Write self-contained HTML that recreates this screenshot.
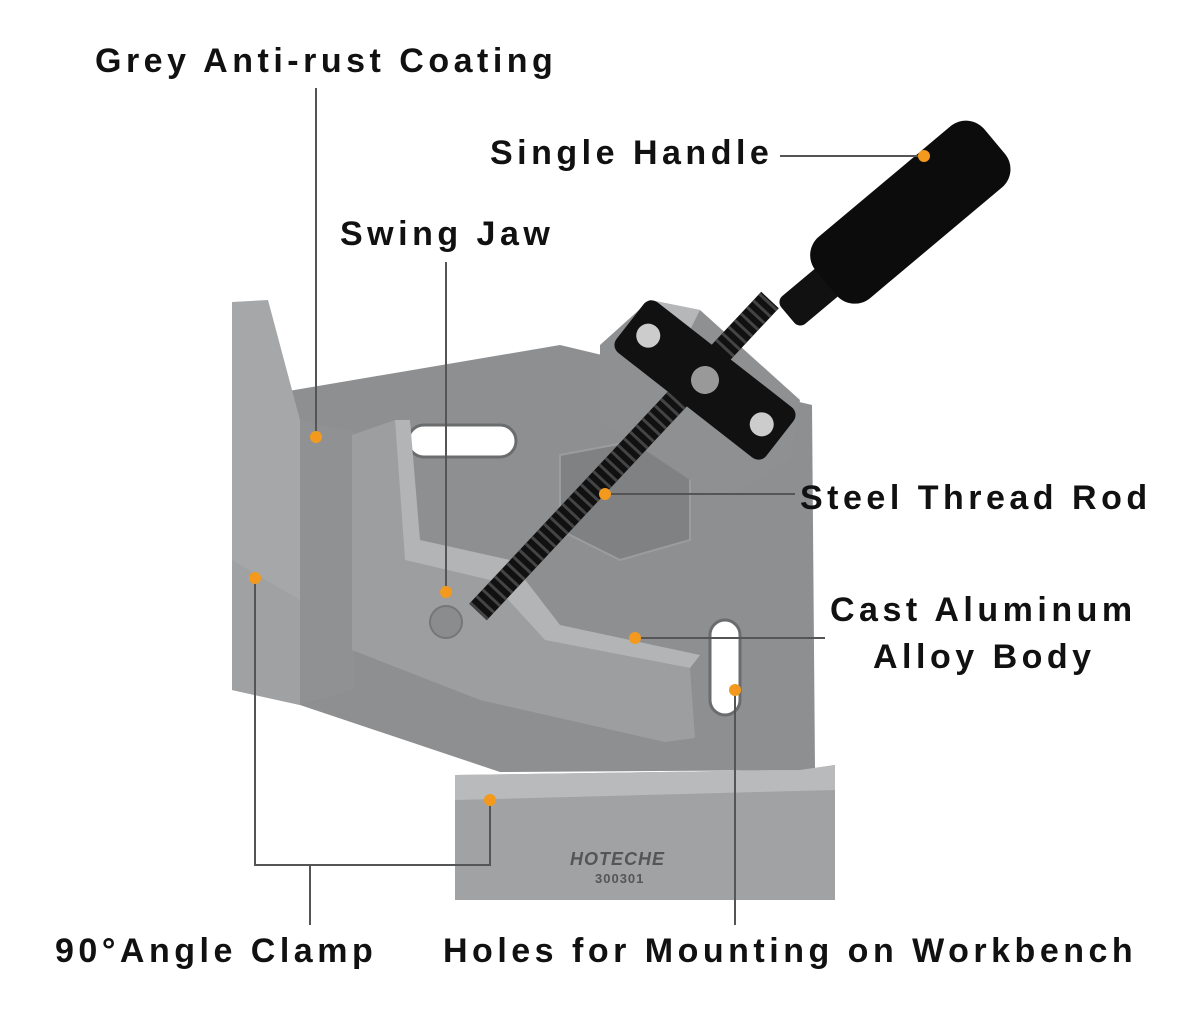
<!DOCTYPE html>
<html><head><meta charset="utf-8"><style>
html,body{margin:0;padding:0;background:#fff;}
svg{display:block;}
text{font-family:"Liberation Sans",sans-serif;font-weight:bold;font-size:34px;fill:#111;letter-spacing:4.5px;}
</style></head><body>
<svg width="1200" height="1018" viewBox="0 0 1200 1018" xmlns="http://www.w3.org/2000/svg">
<polygon points="265,395 560,345 812,405 815,770 500,772 300,705" fill="#8d8f91"/>
<rect x="408" y="425" width="108" height="32" rx="16" fill="#fff" stroke="#6a6c6e" stroke-width="3"/>
<polygon points="560,455 640,440 690,470 690,540 620,560 560,530" fill="#7f8183" stroke="#9a9c9e" stroke-width="2"/>
<polygon points="232,302 268,300 300,420 300,705 232,690" fill="#a5a7a9"/>
<polygon points="268,300 300,420 355,440 355,690 300,705 300,420" fill="#7d7f81"/>
<polygon points="300,420 355,432 355,690 300,705" fill="#8f9193"/>
<polygon points="232,560 300,600 300,705 232,690" fill="#9fa1a3"/>
<polygon points="352,435 395,420 405,560 490,580 545,640 690,668 695,738 665,742 480,700 352,650" fill="#9c9ea0"/>
<polygon points="395,420 405,560 490,580 545,640 690,668 700,655 560,625 510,560 420,540 410,420" fill="#b2b4b6"/>
<circle cx="446" cy="622" r="16" fill="#8a8c8e" stroke="#777" stroke-width="2"/>
<rect x="710" y="620" width="30" height="95" rx="15" fill="#fff" stroke="#6a6c6e" stroke-width="3"/>
<polygon points="455,775 800,770 835,765 835,900 455,900" fill="#a0a2a4"/>
<polygon points="455,775 800,770 835,765 835,790 455,800" fill="#b8babc"/>
<text x="570" y="865" style="font-size:18px;font-style:italic;fill:#555;letter-spacing:1px;">HOTECHE</text>
<text x="595" y="883" style="font-size:13px;fill:#555;letter-spacing:1px;">300301</text>
<polygon points="600,345 650,300 700,310 800,400 790,460 720,500 600,420" fill="#8e9092"/>
<polygon points="650,300 700,310 690,330 645,325" fill="#b5b7b9"/>
<line x1="478" y1="612" x2="770" y2="300" stroke="#111" stroke-width="24"/>
<line x1="478" y1="612" x2="770" y2="300" stroke="#444" stroke-width="24" stroke-dasharray="3 6"/>
<g transform="translate(705,380) rotate(38)">
<rect x="-95" y="-32" width="190" height="64" rx="10" fill="#111"/>
<circle cx="-72" cy="0" r="12" fill="#ccc"/><circle cx="72" cy="0" r="12" fill="#ccc"/>
<circle cx="0" cy="0" r="14" fill="#999"/>
</g>
<g transform="translate(895,225) rotate(-40)">
<rect x="-140" y="-18" width="60" height="36" rx="8" fill="#111"/>
<rect x="-90" y="-40" width="220" height="80" rx="24" fill="#0c0c0c"/>
</g>
<g stroke="#555" stroke-width="2" fill="none">
<line x1="316" y1="88" x2="316" y2="437"/>
<line x1="780" y1="156" x2="924" y2="156"/>
<line x1="446" y1="262" x2="446" y2="592"/>
<line x1="605" y1="494" x2="795" y2="494"/>
<line x1="635" y1="638" x2="825" y2="638"/>
<polyline points="255,578 255,865 490,865 490,800"/>
<line x1="310" y1="865" x2="310" y2="925"/>
<line x1="735" y1="690" x2="735" y2="925"/>
</g>
<g fill="#f39a1e">
<circle cx="316" cy="437" r="6"/><circle cx="924" cy="156" r="6"/>
<circle cx="446" cy="592" r="6"/><circle cx="605" cy="494" r="6"/>
<circle cx="635" cy="638" r="6"/><circle cx="255" cy="578" r="6"/>
<circle cx="490" cy="800" r="6"/><circle cx="735" cy="690" r="6"/>
</g>
<text x="95" y="72">Grey Anti-rust Coating</text>
<text x="490" y="164">Single Handle</text>
<text x="340" y="245">Swing Jaw</text>
<text x="800" y="509">Steel Thread Rod</text>
<text x="830" y="621">Cast Aluminum</text>
<text x="873" y="668">Alloy Body</text>
<text x="55" y="962">90°Angle Clamp</text>
<text x="443" y="962">Holes for Mounting on Workbench</text>
</svg>
</body></html>
